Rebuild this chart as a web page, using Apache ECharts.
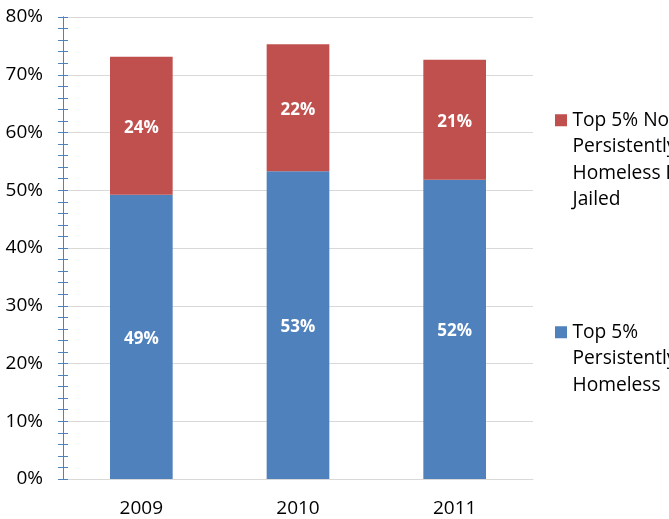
<!DOCTYPE html>
<html><head><meta charset="utf-8">
<script src="https://cdn.jsdelivr.net/npm/echarts@6/dist/echarts.min.js"></script>
<style>html,body{margin:0;padding:0;background:#fff}#c{width:669px;height:519px}</style>
</head><body><div id="c"></div>
<script>
const categories = ['2009', '2010', '2011'];
const persistentlyHomeless = [49.2, 53.3, 51.8];
const notPersistentlyJailed = [23.9, 22.0, 20.8];
const nameBlue = 'Top 5% Persistently Homeless';
const nameRed = 'Top 5% Not Persistently Homeless But Jailed';
const blueLines = ['Top 5%', 'Persistently', 'Homeless'];
const redLines = ['Top 5% Not', 'Persistently', 'Homeless But', 'Jailed'];

const FONT = '"Open Sans", sans-serif';
const LH = 26.5;
// legend icon: square aligned with the first text line, tall invisible box
function topSquareIcon(nLines) {
  const h = nLines * LH;
  const t = LH / 2 - 6;
  return 'path://M0,0h0.01v0.01h-0.01z M0,' + t + 'h12v12h-12z M0,' + (h - 0.01) + 'h0.01v0.01h-0.01z';
}
const chart = echarts.init(document.getElementById('c'), null, {renderer: 'canvas'});
const yBase = {
  type: 'value', min: 0, max: 80, interval: 10, position: 'left',
  axisLine: {show: true, lineStyle: {color: '#4F81BD', width: 1}},
  minorTick: {show: true, splitNumber: 5, length: 5, lineStyle: {color: '#4F81BD'}},
  minorSplitLine: {show: false}
};
const legendText = {fontFamily: FONT, fontSize: 19.2, color: '#000', lineHeight: LH};
chart.setOption({
  animation: false,
  grid: {left: 63, right: 136, top: 17, bottom: 40},
  xAxis: {
    type: 'category', data: categories,
    axisLine: {lineStyle: {color: '#D9D9D9', width: 1}},
    axisTick: {show: false},
    axisLabel: {color: '#000', fontFamily: FONT, fontSize: 19, margin: 20}
  },
  yAxis: [
    Object.assign({}, yBase, {
      axisTick: {show: true, length: 5, lineStyle: {color: '#4F81BD'}},
      axisLabel: {color: '#000', fontFamily: FONT, fontSize: 19, margin: 20, formatter: '{value}%'},
      splitLine: {show: true, lineStyle: {color: '#D9D9D9', width: 1}}
    }),
    Object.assign({}, yBase, {
      axisTick: {show: true, inside: true, length: 5, lineStyle: {color: '#4F81BD'}},
      axisLabel: {show: false},
      splitLine: {show: false}
    })
  ],
  legend: [
    {
      data: [{name: nameRed, icon: topSquareIcon(4)}], orient: 'vertical', left: 555, top: 107, padding: 0,
      itemWidth: 13, itemHeight: 4 * LH, itemGap: 0,
      formatter: () => redLines.join('\n'),
      textStyle: legendText
    },
    {
      data: [{name: nameBlue, icon: topSquareIcon(3)}], orient: 'vertical', left: 555, top: 319, padding: 0,
      itemWidth: 13, itemHeight: 3 * LH, itemGap: 0,
      formatter: () => blueLines.join('\n'),
      textStyle: legendText
    }
  ],
  series: [
    {
      name: nameBlue, type: 'bar', stack: 'a', data: persistentlyHomeless, barWidth: '40%',
      itemStyle: {color: '#4F81BD'},
      label: {show: true, position: 'inside', offset: [0, 2], color: '#fff', fontWeight: 'bold', fontFamily: FONT, fontSize: 17,
        formatter: p => Math.round(p.value) + '%'}
    },
    {
      name: nameRed, type: 'bar', stack: 'a', data: notPersistentlyJailed, barWidth: '40%',
      itemStyle: {color: '#C0504D'},
      label: {show: true, position: 'inside', offset: [0, 2], color: '#fff', fontWeight: 'bold', fontFamily: FONT, fontSize: 17,
        formatter: p => Math.round(p.value) + '%'}
    }
  ]
});
</script></body></html>
